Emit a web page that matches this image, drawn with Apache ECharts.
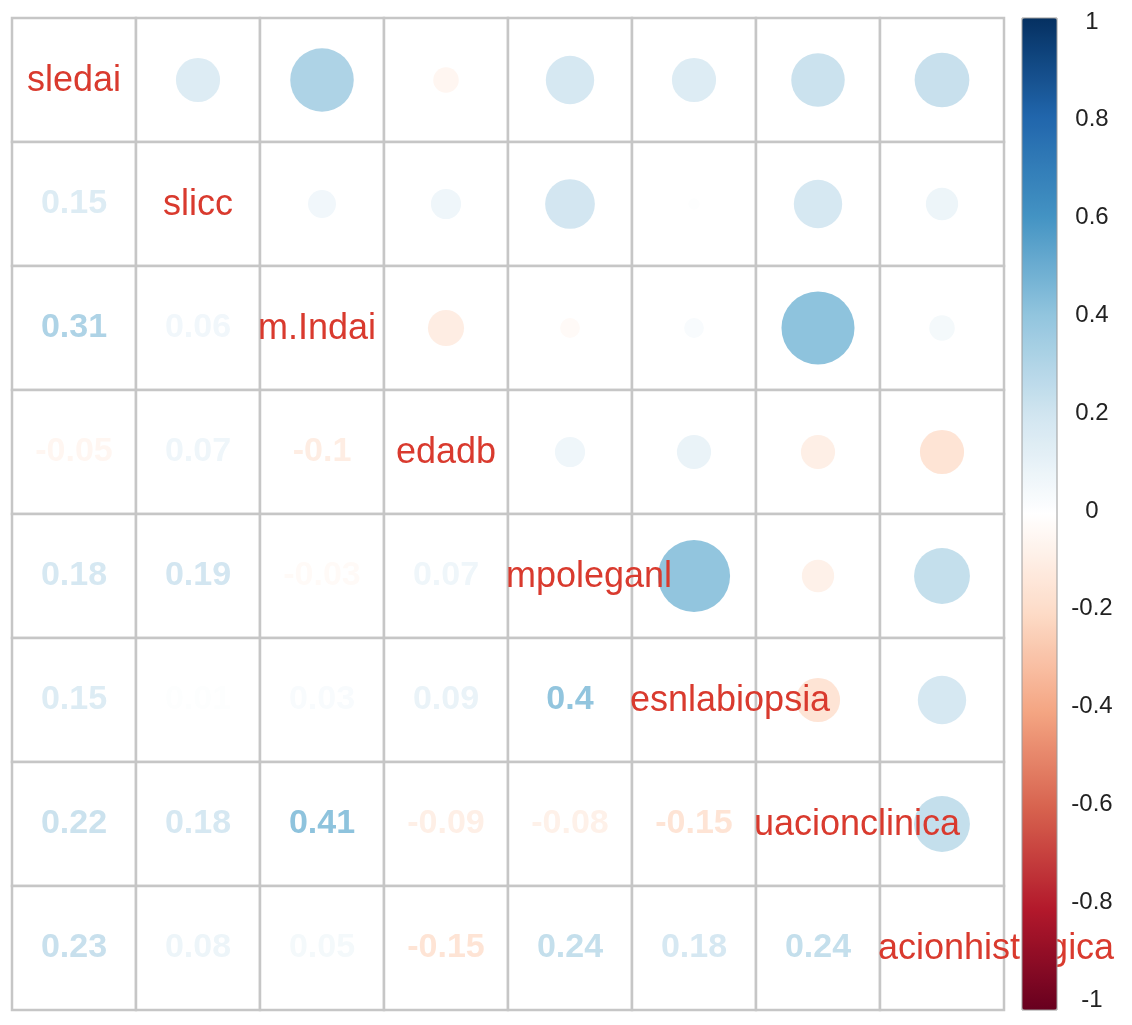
<!DOCTYPE html>
<html>
<head>
<meta charset="utf-8">
<script src="https://cdn.jsdelivr.net/npm/echarts@6/dist/echarts.min.js"></script>
<style>html,body{margin:0;padding:0;background:#fff;}#chart{width:1132px;height:1025px;}</style>
</head>
<body>
<div id="chart"></div>
<script>
// Variable names (as visible on the diagonal)
const variables = ['sledai','slicc','m.Indai','edadb','mpoleganl','esnlabiopsia','uacionclinica','acionhistlogica'];
// Lower-triangle correlations, row by row (diagonal = 1)
const corrRow0 = [1];
const corrRow1 = [0.15, 1];
const corrRow2 = [0.31, 0.06, 1];
const corrRow3 = [-0.05, 0.07, -0.1, 1];
const corrRow4 = [0.18, 0.19, -0.03, 0.07, 1];
const corrRow5 = [0.15, 0.01, 0.03, 0.09, 0.4, 1];
const corrRow6 = [0.22, 0.18, 0.41, -0.09, -0.08, -0.15, 1];
const corrRow7 = [0.23, 0.08, 0.05, -0.15, 0.24, 0.18, 0.24, 1];
const corrRows = [corrRow0, corrRow1, corrRow2, corrRow3, corrRow4, corrRow5, corrRow6, corrRow7];
// Colour bar ticks
const colorbarTicks = [-1, -0.8, -0.6, -0.4, -0.2, 0, 0.2, 0.4, 0.6, 0.8, 1];
const palette = ['#67001F','#B2182B','#D6604D','#F4A582','#FDDBC7','#FFFFFF','#D1E5F0','#92C5DE','#4393C3','#2166AC','#053061'];

const n = variables.length;
function corr(i, j) { return i >= j ? corrRows[i][j] : corrRows[j][i]; }
const cells = [];
for (let r = 0; r < n; r++) for (let c = 0; c < n; c++) cells.push([c, r, corr(r, c)]);

const measureCtx = document.createElement('canvas').getContext('2d');
const labelFont = '36px "Liberation Sans", Arial, sans-serif';
measureCtx.font = labelFont;

const chart = echarts.init(document.getElementById('chart'), null, {renderer: 'canvas'});
chart.setOption({
  backgroundColor: '#fff',
  animation: false,
  grid: [
    {left: 12, top: 18, width: 992, height: 992, show: false},
    {left: 1022, top: 22, width: 35, height: 978, show: false}
  ],
  xAxis: [
    {type: 'category', data: variables, gridIndex: 0, show: false},
    {type: 'value', gridIndex: 1, show: false, min: 0, max: 1}
  ],
  yAxis: [
    {type: 'category', data: variables, gridIndex: 0, show: false, inverse: true},
    {type: 'value', gridIndex: 1, min: colorbarTicks[0], max: colorbarTicks[colorbarTicks.length - 1],
     interval: 0.2, position: 'right',
     axisLine: {show: false}, splitLine: {show: false},
     axisTick: {show: true, inside: false, length: 7, lineStyle: {color: '#333', width: 1.5}},
     axisLabel: {show: true, align: 'center', margin: 35, fontSize: 24, color: '#222',
       fontFamily: '"Liberation Sans", Arial, sans-serif',
       formatter: v => String(+(+v).toFixed(1))}}
  ],
  visualMap: {
    type: 'continuous', min: -1, max: 1, dimension: 2, seriesIndex: 0,
    inRange: {color: palette}, calculable: false, orient: 'vertical',
    left: 1022, top: 18, itemWidth: 35, itemHeight: 992, padding: 0, text: null,
    hoverLink: false
  },
  graphic: [{
    type: 'rect', z: 100, silent: true,
    shape: {x: 1022, y: 18, width: 35, height: 992},
    style: {fill: 'none', stroke: '#9a9a9a', lineWidth: 1}
  }],
  series: [
    {
      type: 'custom', coordinateSystem: 'cartesian2d', xAxisIndex: 0, yAxisIndex: 0,
      data: cells,
      renderItem: function (params, api) {
        const c = api.value(0), r = api.value(1), v = api.value(2);
        const p = api.coord([c, r]);
        const s = api.size([1, 1]);
        const w = s[0], h = s[1];
        const x0 = p[0] - w / 2, y0 = p[1] - h / 2;
        const children = [{
          type: 'rect', z2: 0,
          shape: {x: x0, y: y0, width: w, height: h},
          style: {fill: '#fff', stroke: '#c6c6c6', lineWidth: 2.5}
        }];
        const color = api.visual('color');
        if (c > r) {
          const rad = Math.sqrt(Math.abs(v)) * w * 0.46;
          children.push({type: 'circle', z2: 1, shape: {cx: p[0], cy: p[1], r: rad}, style: {fill: color}});
        } else if (c < r) {
          children.push({type: 'text', z2: 2, style: {
            text: String(v), x: p[0], y: p[1], align: 'center', verticalAlign: 'middle',
            fill: color, font: 'bold 34px "Liberation Sans", Arial, sans-serif'}});
        } else {
          const label = variables[r];
          const tw = measureCtx.measureText(label).width;
          const wide = tw > w - 6;
          children.push({type: 'text', z2: 5, style: {
            text: label, x: wide ? x0 - 2 : p[0], y: p[1] + 1,
            align: wide ? 'left' : 'center', verticalAlign: 'middle',
            fill: '#d93a2e', font: labelFont}});
        }
        return {type: 'group', children: children};
      }
    },
    {type: 'line', xAxisIndex: 1, yAxisIndex: 1, data: [], silent: true}
  ]
});
</script>
</body>
</html>
